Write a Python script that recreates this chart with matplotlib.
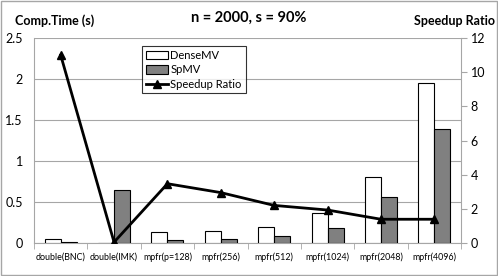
import numpy as np
import matplotlib.pyplot as plt
from matplotlib.lines import Line2D
from matplotlib.patches import Patch, Rectangle

plt.rcParams['font.family'] = ['Lato', 'DejaVu Sans']

# data
categories = ['double(BNC)', 'double(IMK)', 'mpfr(p=128)', 'mpfr(256)',
              'mpfr(512)', 'mpfr(1024)', 'mpfr(2048)', 'mpfr(4096)']
dense_mv = [0.045, 0.005, 0.135, 0.145, 0.195, 0.36, 0.80, 1.955]
sp_mv = [0.008, 0.65, 0.035, 0.045, 0.085, 0.18, 0.56, 1.39]
speedup = [11.0, 0.05, 3.47, 2.95, 2.2, 1.93, 1.39, 1.39]

fig = plt.figure(figsize=(4.98, 2.76), dpi=100)
ax = fig.add_axes([34 / 498, 1 - 243 / 276, (461 - 34) / 498, (243 - 38) / 276])
ax2 = ax.twinx()

x = np.arange(len(categories))
w = 0.3
ax.bar(x - w / 2, dense_mv, w, color='white', edgecolor='black', linewidth=0.8, zorder=3)
ax.bar(x + w / 2, sp_mv, w, color='#808080', edgecolor='black', linewidth=0.8, zorder=3)
ax2.plot(x, speedup, color='black', linewidth=2, marker='^', markersize=6, zorder=4)

ax.set_xlim(-0.5, len(categories) - 0.5)
ax.set_ylim(0, 2.5)
ax.set_yticks(np.arange(0, 2.51, 0.5))
ax.set_yticklabels(['0', '0.5', '1', '1.5', '2', '2.5'])
ax.grid(axis='y', color='#a6a6a6', linewidth=0.8, zorder=0)
ax.set_axisbelow(True)
ax2.set_ylim(0, 12)
ax2.set_yticks(range(0, 13, 2))

ax.set_xticks(x)
ax.set_xticklabels(categories, fontsize=6.4)
ax.set_xticks(np.arange(-0.5, len(categories), 1), minor=True)
ax.tick_params(axis='x', which='major', length=0, pad=7)
ax.tick_params(axis='x', which='minor', length=4, color='#a6a6a6', direction='out')
ax.tick_params(axis='y', length=0, labelsize=9, pad=8)
ax2.tick_params(axis='y', length=4, color='#a6a6a6', labelsize=9, pad=3)

for a in (ax, ax2):
    for s in a.spines.values():
        s.set_visible(False)
ax.spines['bottom'].set_visible(True)
ax.spines['bottom'].set_color('#a6a6a6')
ax.spines['left'].set_visible(True)
ax.spines['left'].set_color('#a6a6a6')
ax2.spines['right'].set_visible(True)
ax2.spines['right'].set_color('#a6a6a6')

fig.text(0.5, 1 - 18 / 276, 'n = 2000, s = 90%', ha='center', va='center',
         fontsize=10.5, fontweight='bold')
fig.text(15 / 498, 1 - 21 / 276, 'Comp.Time (s)', ha='left', va='center',
         fontsize=9, fontweight='bold')
fig.text(495 / 498, 1 - 21 / 276, 'Speedup Ratio', ha='right', va='center',
         fontsize=9, fontweight='bold')

handles = [Patch(facecolor='white', edgecolor='black', linewidth=0.8),
           Patch(facecolor='#808080', edgecolor='black', linewidth=0.8),
           Line2D([], [], color='black', linewidth=2, marker='^', markersize=6)]
leg = ax.legend(handles, ['DenseMV', 'SpMV', 'Speedup Ratio'],
                loc='upper left', bbox_to_anchor=((142 - 34) / 427, (243 - 46) / 205),
                fontsize=8, frameon=True, fancybox=False, edgecolor='black',
                handlelength=2.0, handleheight=0.8, handletextpad=0.2, borderpad=0.35,
                labelspacing=0.3, borderaxespad=0)
leg.get_frame().set_linewidth(0.8)
leg.set_zorder(10)

fig.patches.append(Rectangle((0.002, 0.003), 0.995, 0.994, transform=fig.transFigure,
                             fill=False, edgecolor='#a6a6a6', linewidth=1))

fig.savefig('out.png', dpi=100)
